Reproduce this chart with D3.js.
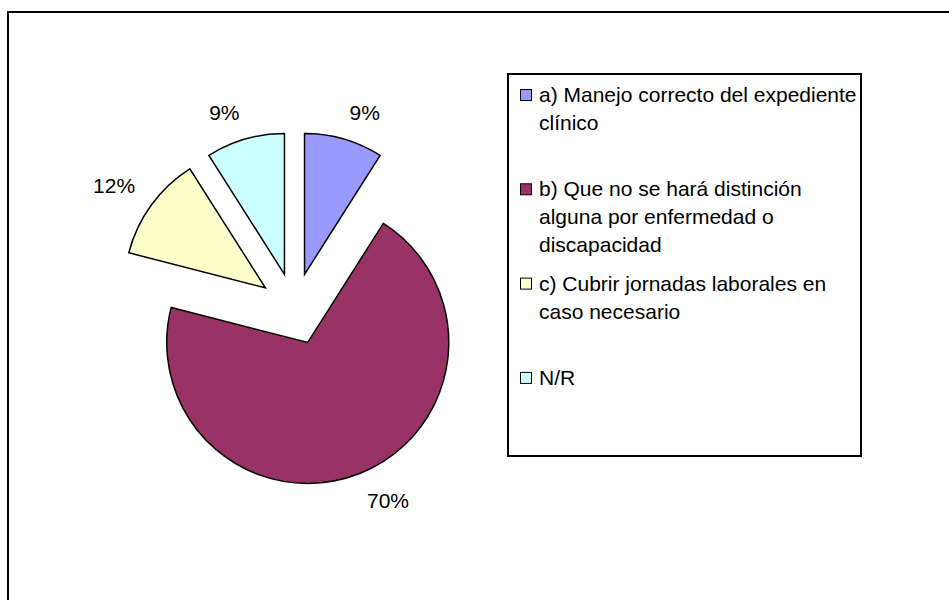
<!DOCTYPE html>
<html>
<head>
<meta charset="utf-8">
<script src="https://cdn.jsdelivr.net/npm/d3@7"></script>
<style>
body { margin: 0; background: #fff; }
text { font-family: "Liberation Sans", Arial, sans-serif; }
</style>
</head>
<body>
<script>
var w = 949;
var h = 600;

// legend text keeps the line breaks of the original
var categories = [
  "a) Manejo correcto del expediente\nclínico",
  "b) Que no se hará distinción\nalguna por enfermedad o\ndiscapacidad",
  "c) Cubrir jornadas laborales en\ncaso necesario",
  "N/R"
];
var values = [9, 70, 12, 9];
var colors = ["#9999FF", "#993366", "#FFFFCC", "#CCFFFF"];

var cx = 294.5, cy = 309, radius = 141, explode = 36;

var svg = d3.select("body")
  .append("svg")
  .attr("width", w)
  .attr("height", h)
  .style("display", "block");

// chart area border, runs off right and bottom
svg.append("rect")
  .attr("x", 8).attr("y", 12)
  .attr("width", w + 20).attr("height", h + 20)
  .attr("fill", "none")
  .attr("stroke", "#000")
  .attr("stroke-width", 2);

var pie = d3.pie().sort(null).value(function(d) { return d; });
var arc = d3.arc().innerRadius(0).outerRadius(radius);
var arcs = pie(values);

function mid(d) { return (d.startAngle + d.endAngle) / 2; }

var g = svg.append("g")
  .attr("transform", "translate(" + cx + "," + cy + ")");

g.selectAll("path")
  .data(arcs)
  .enter()
  .append("path")
  .attr("d", arc)
  .attr("transform", function(d) {
    var a = mid(d);
    return "translate(" + Math.sin(a) * explode + "," + (-Math.cos(a) * explode) + ")";
  })
  .attr("fill", function(d, i) { return colors[i]; })
  .attr("stroke", "#000")
  .attr("stroke-width", 1.5);

// percentage labels just outside each exploded slice
var lr = explode + radius + 20;
g.selectAll("text.pct")
  .data(arcs)
  .enter()
  .append("text")
  .attr("class", "pct")
  .text(function(d) { return d.value + "%"; })
  .attr("x", function(d) { return Math.sin(mid(d)) * lr; })
  .attr("y", function(d) {
    var c = Math.cos(mid(d));
    return -c * lr + (c < 0 ? 16 : 0);
  })
  .attr("text-anchor", function(d) { return Math.sin(mid(d)) > 0 ? "start" : "end"; })
  .attr("font-size", "21px")
  .attr("fill", "#000");

// legend
var lx = 508, ly = 74, lw = 353, lh = 382;
svg.append("rect")
  .attr("x", lx).attr("y", ly)
  .attr("width", lw).attr("height", lh)
  .attr("fill", "#fff")
  .attr("stroke", "#000")
  .attr("stroke-width", 2);

var ys = d3.scaleBand()
  .domain(categories)
  .range([ly + 14, ly + 14 + 4 * 94.3]);

var item = svg.selectAll("g.item")
  .data(categories)
  .enter()
  .append("g")
  .attr("class", "item")
  .attr("transform", function(d) { return "translate(0," + ys(d) + ")"; });

item.append("rect")
  .attr("x", 520.5).attr("y", 1.5)
  .attr("width", 11).attr("height", 11)
  .attr("fill", function(d, i) { return colors[i]; })
  .attr("stroke", "#000")
  .attr("stroke-width", 1);

item.append("text")
  .attr("font-size", "21px")
  .attr("fill", "#000")
  .selectAll("tspan")
  .data(function(d) { return d.split("\n"); })
  .enter()
  .append("tspan")
  .attr("x", 539)
  .attr("y", function(d, i) { return 14 + i * 28; })
  .text(function(d) { return d; });
</script>
</body>
</html>
